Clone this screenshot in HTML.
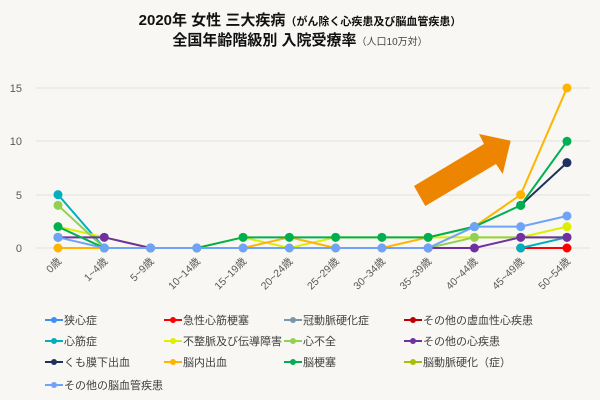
<!DOCTYPE html>
<html><head><meta charset="utf-8"><style>
body{margin:0;background:#f8f7f4;}
svg{display:block;font-family:"Liberation Sans","Noto Sans CJK JP",sans-serif;}
</style></head><body>
<svg width="600" height="400" viewBox="0 0 600 400">
<rect width="600" height="400" fill="#f8f7f4"/>
<text x="300" y="25" text-anchor="middle" font-size="15" font-weight="bold" fill="#111">2020年 女性 三大疾病<tspan font-size="11">（がん除く心疾患及び脳血管疾患）</tspan></text>
<text x="300" y="45" text-anchor="middle" font-size="15" font-weight="bold" fill="#111">全国年齢階級別 入院受療率<tspan font-size="10" font-weight="normal" fill="#444">（人口10万対）</tspan></text>
<g stroke="#e2e0dc" stroke-width="1">
<line x1="36" x2="590" y1="88" y2="88"/><line x1="36" x2="590" y1="141" y2="141"/><line x1="36" x2="590" y1="195" y2="195"/><line x1="36" x2="590" y1="248" y2="248"/>
</g>
<g font-size="11" fill="#595959" text-anchor="end">
<text x="22" y="92">15</text><text x="22" y="145">10</text><text x="22" y="199">5</text><text x="22" y="252">0</text>
</g>
<g font-size="10.5" fill="#595959" text-anchor="end" id="xl"></g>
<g id="series"></g>
<polygon points="414,186 484,144 479,134 510.7,140.7 502.7,174 496,164 425.3,206" fill="#ee8500"/>
<g id="legend" font-size="11" fill="#404040"></g>
</svg>
<script>
var X=function(i){return 58+i*46.27},Y=function(v){return 248-v*10.67};
var labels=["0歳","1~4歳","5~9歳","10~14歳","15~19歳","20~24歳","25~29歳","30~34歳","35~39歳","40~44歳","45~49歳","50~54歳"];
var ns="http://www.w3.org/2000/svg",xl=document.getElementById("xl");
labels.forEach(function(l,i){var t=document.createElementNS(ns,"text");t.setAttribute("transform","translate("+(X(i)+4)+",262) rotate(-45)");t.textContent=l;xl.appendChild(t);});
var n=null;
var S=[
["狭心症","#3f8ef5",[n,n,n,n,n,n,n,n,n,n,n,n]],
["急性心筋梗塞","#ff0000",[n,n,n,n,n,n,n,n,n,n,0,0]],
["冠動脈硬化症","#7a96a8",[n,n,n,n,n,n,n,n,n,n,n,n]],
["その他の虚血性心疾患","#c00000",[n,n,n,n,n,n,n,n,n,n,n,n]],
["心筋症","#00aec0",[5,0,n,n,n,n,n,n,n,n,0,1]],
["不整脈及び伝導障害","#dcef00",[2,1,0,0,1,0,1,1,1,1,1,2]],
["心不全","#92d050",[4,0,n,n,n,n,n,n,0,1,1,1]],
["その他の心疾患","#7030a0",[1,1,0,n,n,n,n,n,0,0,1,1]],
["くも膜下出血","#1f2f5f",[n,n,n,n,n,n,n,n,n,n,4,8]],
["脳内出血","#ffb400",[0,0,0,0,0,1,0,0,1,2,5,15]],
["脳梗塞","#00b050",[2,0,0,0,1,1,1,1,1,2,4,10]],
["脳動脈硬化（症）","#a9c000",[n,n,n,n,n,n,n,n,n,n,n,n]],
["その他の脳血管疾患","#6fa3f7",[1,0,0,0,0,0,0,0,0,2,2,3]]];
var g=document.getElementById("series"),lg=document.getElementById("legend");
S.forEach(function(s,k){
 var segs=[],cur=[];
 s[2].forEach(function(v,i){if(v===null){if(cur.length)segs.push(cur);cur=[];}else cur.push(X(i)+","+Y(v));});
 if(cur.length)segs.push(cur);
 segs.forEach(function(sg){var pl=document.createElementNS(ns,"polyline");pl.setAttribute("points",sg.join(" "));pl.setAttribute("fill","none");pl.setAttribute("stroke",s[1]);pl.setAttribute("stroke-width","2");g.appendChild(pl);});
 s[2].forEach(function(v,i){if(v===null)return;var c=document.createElementNS(ns,"circle");c.setAttribute("cx",X(i));c.setAttribute("cy",Y(v));c.setAttribute("r","4.5");c.setAttribute("fill",s[1]);g.appendChild(c);});
 var col=k%4,row=Math.floor(k/4),lx=[45,164,284,404][col],ly=[320,341,362,385][row];
 var ln=document.createElementNS(ns,"line");ln.setAttribute("x1",lx);ln.setAttribute("x2",lx+18);ln.setAttribute("y1",ly);ln.setAttribute("y2",ly);ln.setAttribute("stroke",s[1]);ln.setAttribute("stroke-width","2");lg.appendChild(ln);
 var c=document.createElementNS(ns,"circle");c.setAttribute("cx",lx+9);c.setAttribute("cy",ly);c.setAttribute("r","3");c.setAttribute("fill",s[1]);lg.appendChild(c);
 var t=document.createElementNS(ns,"text");t.setAttribute("x",lx+19);t.setAttribute("y",ly+4);t.textContent=s[0];lg.appendChild(t);
});
</script>
</body></html>
